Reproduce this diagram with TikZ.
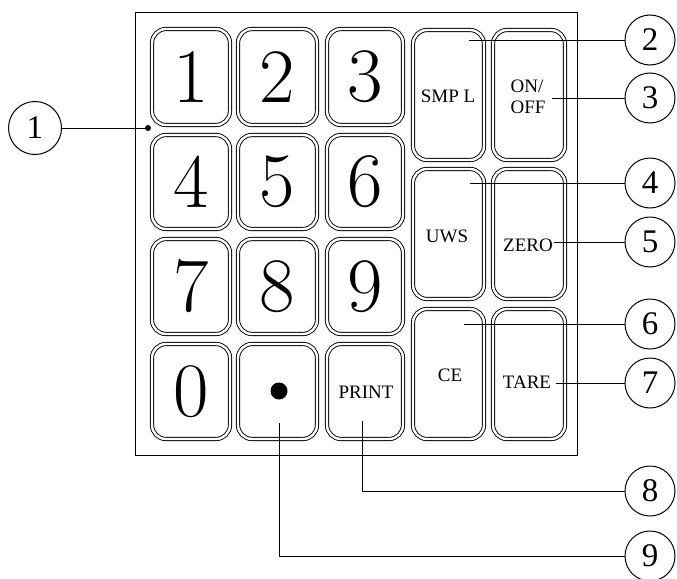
\documentclass[tikz,border=0pt]{standalone}
\usepackage{fontspec}
\newfontfamily\tms{Liberation Serif}
\begin{document}
\begin{tikzpicture}[x=1pt,y=-1pt,
  key/.style={draw, double, double distance=2.4pt, line width=0.9pt, rounded corners=14pt, inner sep=0pt},
  callout/.style={draw, circle, line width=1pt, minimum size=50pt, inner sep=0pt, font=\fontsize{33}{33}\tms},
  lead/.style={line width=0.9pt},
  digit/.style={font=\fontsize{77}{77}\selectfont},
  lbl/.style={font=\fontsize{19}{21}\tms, inner sep=0pt}]
\useasboundingbox (0,0) rectangle (677,578);
\fill[white] (0,0) rectangle (677,578);
% frame
\node[draw, line width=0.9pt, minimum width=442pt, minimum height=443pt, inner sep=0pt] (frame) at (356,233.5) {};
% digit keys
\node[key, digit, minimum width=78pt, minimum height=96pt] (k1) at (191,77) {1};
\node[key, digit, minimum width=79pt, minimum height=96pt] (k2) at (277.5,77) {2};
\node[key, digit, minimum width=76pt, minimum height=96pt] (k3) at (365,77) {3};
\node[key, digit, minimum width=78pt, minimum height=94pt] (k4) at (191,182) {4};
\node[key, digit, minimum width=79pt, minimum height=94pt] (k5) at (277.5,182) {5};
\node[key, digit, minimum width=76pt, minimum height=94pt] (k6) at (365,182) {6};
\node[key, digit, minimum width=78pt, minimum height=95pt] (k7) at (191,286.5) {7};
\node[key, digit, minimum width=79pt, minimum height=95pt] (k8) at (277.5,286.5) {8};
\node[key, digit, minimum width=76pt, minimum height=95pt] (k9) at (365,286.5) {9};
\node[key, digit, minimum width=78pt, minimum height=95pt] (k0) at (191,391.5) {0};
\node[key, minimum width=79pt, minimum height=95pt] (kdot) at (277.5,391.5) {};
\node[key, minimum width=76pt, minimum height=95pt] (kprint) at (365,391.5) {};
% tall keys
\node[key, minimum width=71pt, minimum height=130pt] (ksmpl) at (448.5,95) {};
\node[key, minimum width=72pt, minimum height=130pt] (konoff) at (529,95) {};
\node[key, minimum width=71pt, minimum height=130pt] (kuws) at (448.5,234) {};
\node[key, minimum width=72pt, minimum height=130pt] (kzero) at (529,234) {};
\node[key, minimum width=71pt, minimum height=130pt] (kce) at (448.5,374) {};
\node[key, minimum width=72pt, minimum height=130pt] (ktare) at (529,374) {};
% labels
\fill (279,391) circle (8.5pt);
\node[lbl] (lprint) at (366,392) {PRINT};
\node[lbl] (lsmpl) at (448,96) {SMP L};
\node[lbl, align=left] (lonoff) at (528,97) {ON/\\OFF};
\node[lbl] (luws) at (447,236) {UWS};
\node[lbl] (lzero) at (528,245) {ZERO};
\node[lbl] (lce) at (450,375) {CE};
\node[lbl] (ltare) at (527,382) {TARE};
% callouts
\node[callout, minimum size=53pt] (c1) at (35,128) {1};
\node[callout] (c2) at (650,40) {2};
\node[callout] (c3) at (650,98) {3};
\node[callout] (c4) at (650,183) {4};
\node[callout] (c5) at (650,242) {5};
\node[callout] (c6) at (650,324) {6};
\node[callout] (c7) at (650,383) {7};
\node[callout] (c8) at (650,491) {8};
\node[callout] (c9) at (650,556) {9};
% leader start points
\coordinate (p1) at (148,128);
\coordinate (p2) at (469,40);
\coordinate (p3) at (552,98);
\coordinate (p4) at (470,183);
\coordinate (p5) at (554,242);
\coordinate (p6) at (464,324);
\coordinate (p7) at (556,383);
\coordinate (p8) at (362,421);
\coordinate (p9) at (279,423);
% leaders
\fill (p1) circle (3pt);
\draw[lead] (c1) -- (p1);
\draw[lead] (p2) -- (c2);
\draw[lead] (p3) -- (c3);
\draw[lead] (p4) -- (c4);
\draw[lead] (p5) -- (c5);
\draw[lead] (p6) -- (c6);
\draw[lead] (p7) -- (c7);
\draw[lead] (p8) |- (c8);
\draw[lead] (p9) |- (c9);
\end{tikzpicture}
\end{document}
